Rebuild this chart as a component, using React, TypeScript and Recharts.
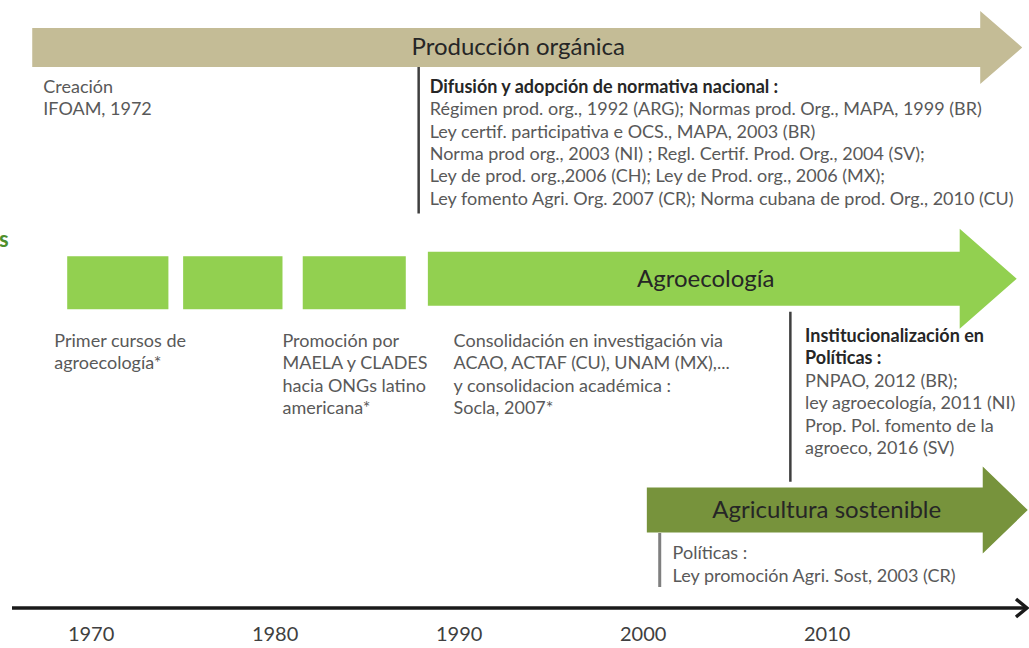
import React from 'react';
import { ComposedChart, XAxis, YAxis, ReferenceArea, ReferenceDot } from 'recharts';

// Eje temporal
const yearTicks = [1970, 1980, 1990, 2000, 2010];
const yearDomain = [1965.7, 2020.86];

// Carriles: 0 producción orgánica, 1 agroecología, 2 agricultura sostenible
const laneLabels = ['Producción orgánica', 'Agroecología', 'Agricultura sostenible'];
const arrowStart = [1966.8, 1988.3, 2000.2];
const arrowEnd = [2020.6, 2020.3, 2020.9];

// Bloques previos de agroecología [inicio, fin]
const agroBlocks = [
  [1968.7, 1974.2],
  [1975.0, 1980.4],
  [1981.5, 1987.1],
];

// Hitos marcados con línea vertical
const milestoneYears = [1987.8, 2008.0, 2000.9];
const milestoneLanes = [0, 1, 2];

// Notas de texto
const notes = [
  { year: 1967.4, lane: 0, bold: 0, lines: ['Creación', 'IFOAM, 1972'] },
  {
    year: 1988.4, lane: 0, bold: 1,
    lines: [
      'Difusión y adopción de normativa nacional :',
      'Régimen prod. org., 1992 (ARG); Normas prod. Org., MAPA, 1999 (BR)',
      'Ley certif. participativa e OCS., MAPA, 2003 (BR)',
      'Norma prod org., 2003 (NI) ; Regl. Certif. Prod. Org., 2004 (SV);',
      'Ley de prod. org.,2006 (CH); Ley de Prod. org., 2006 (MX);',
      'Ley fomento Agri. Org. 2007 (CR); Norma cubana de prod. Org., 2010 (CU)',
    ],
  },
  { year: 1968.0, lane: 1, bold: 0, lines: ['Primer cursos de', 'agroecología*'] },
  { year: 1980.4, lane: 1, bold: 0, lines: ['Promoción por', 'MAELA y CLADES', 'hacia ONGs latino', 'americana*'] },
  {
    year: 1989.7, lane: 1, bold: 0,
    lines: ['Consolidación en investigación via', 'ACAO, ACTAF (CU), UNAM (MX),...', 'y  consolidacion académica :', 'Socla, 2007*'],
  },
  {
    year: 2008.8, lane: 1, bold: 2,
    lines: ['Institucionalización en', 'Políticas :', 'PNPAO, 2012 (BR);', 'ley agroecología, 2011 (NI)', 'Prop. Pol. fomento de la', 'agroeco, 2016 (SV)'],
  },
  { year: 2001.6, lane: 2, bold: 0, lines: ['Políticas :', 'Ley promoción Agri. Sost, 2003 (CR)'] },
];

const FONT = 'Lato, "Open Sans", sans-serif';

const arrowStyles = [
  { fill: '#c4bc96', body: 19.5, headHalf: 36.5, head: 42 },
  { fill: '#92d050', body: 27, headHalf: 50, head: 57 },
  { fill: '#77933c', body: 22.5, headHalf: 43.5, head: 45 },
];
const noteOffset = [39, 62, 43];
const noteNudge: Record<number, number> = { 5: -5 };
const milestoneSpan = [[19.5, 166], [33, 203], [23, 77]];
const milestoneColor = ['#3f3f3f', '#3f3f3f', '#7f7f7f'];

const makeArrow = (lane: number) => (p: any) => {
  const s = arrowStyles[lane];
  const x = p.x;
  const cy = p.y + (p.height || 0) / 2;
  const tip = x + p.width;
  const base = tip - s.head;
  const pts = [
    [x, cy - s.body], [base, cy - s.body], [base, cy - s.headHalf], [tip, cy],
    [base, cy + s.headHalf], [base, cy + s.body], [x, cy + s.body],
  ].map((q) => q.join(',')).join(' ');
  return (
    <g>
      <polygon points={pts} fill={s.fill} />
      <text x={(x + base) / 2 + 12} y={cy + 8} textAnchor="middle" fontFamily={FONT} fontSize={24} fill="#262626">
        {laneLabels[lane]}
      </text>
    </g>
  );
};

const blockShape = (p: any) => {
  const cy = p.y + (p.height || 0) / 2 + 4;
  return <rect x={p.x} y={cy - 26.5} width={p.width} height={53} fill="#92d050" />;
};

const makeMilestone = (i: number) => (p: any) => {
  const [a, b] = milestoneSpan[i];
  const w = i === 2 ? 3 : 2.5;
  return <line x1={p.cx} x2={p.cx} y1={p.cy + a} y2={p.cy + b} stroke={milestoneColor[i]} strokeWidth={w} />;
};

const makeNote = (n: typeof notes[number], idx: number) => (p: any) => {
  const top = p.cy + noteOffset[n.lane] + (noteNudge[idx] || 0);
  return (
    <g>
      {n.lines.map((t, k) => (
        <text
          key={k}
          x={p.cx}
          y={top + k * 22.4 + 6.3}
          fontFamily={FONT}
          fontSize={18}
          fontWeight={k < n.bold ? 700 : 400}
          fill={k < n.bold ? '#262626' : '#595959'}
        >
          {t}
        </text>
      ))}
    </g>
  );
};

const axisArrowHead = (p: any) => (
  <polyline
    points={`${p.cx - 11},${p.cy - 9} ${p.cx},${p.cy} ${p.cx - 11},${p.cy + 9}`}
    fill="none"
    stroke="#1a1a1a"
    strokeWidth={3.5}
  />
);

export default function App() {
  const data = yearTicks.map((year) => ({ year }));
  return (
    <div style={{ position: 'absolute', left: 0, top: 0, width: 1029, height: 648, background: '#fff', overflow: 'hidden' }}>
      <span
        style={{
          position: 'absolute', left: -1, top: 226, fontFamily: FONT, fontWeight: 700,
          fontSize: 22, color: '#4e8f2c', lineHeight: '26px',
        }}
      >
        s
      </span>
      <ComposedChart width={1029} height={648} data={data} margin={{ top: 0, right: 2, bottom: 10, left: 12 }}>
        <XAxis
          dataKey="year"
          type="number"
          height={30}
          domain={yearDomain}
          allowDataOverflow
          ticks={yearTicks}
          tickLine={false}
          tickSize={0}
          tickMargin={19}
          axisLine={{ stroke: '#1a1a1a', strokeWidth: 3.5 }}
          tick={{ fill: '#404040', fontSize: 20, fontFamily: FONT }}
        />
        <YAxis type="number" hide reversed domain={[-0.2054, 2.4238]} allowDataOverflow />

        {arrowStart.map((s, lane) => (
          <ReferenceArea
            key={`arrow-${lane}`}
            x1={s}
            x2={arrowEnd[lane]}
            y1={lane}
            y2={lane}
            ifOverflow="visible"
            shape={makeArrow(lane)}
          />
        ))}
        {agroBlocks.map(([a, b], i) => (
          <ReferenceArea key={`block-${i}`} x1={a} x2={b} y1={1} y2={1} ifOverflow="visible" shape={blockShape} />
        ))}
        {milestoneYears.map((yr, i) => (
          <ReferenceDot key={`ms-${i}`} x={yr} y={milestoneLanes[i]} r={0} ifOverflow="visible" shape={makeMilestone(i)} />
        ))}
        {notes.map((n, i) => (
          <ReferenceDot key={`note-${i}`} x={n.year} y={n.lane} r={0} ifOverflow="visible" shape={makeNote(n, i)} />
        ))}
        <ReferenceDot x={yearDomain[1]} y={2.4238} r={0} ifOverflow="visible" shape={axisArrowHead} />
      </ComposedChart>
    </div>
  );
}
